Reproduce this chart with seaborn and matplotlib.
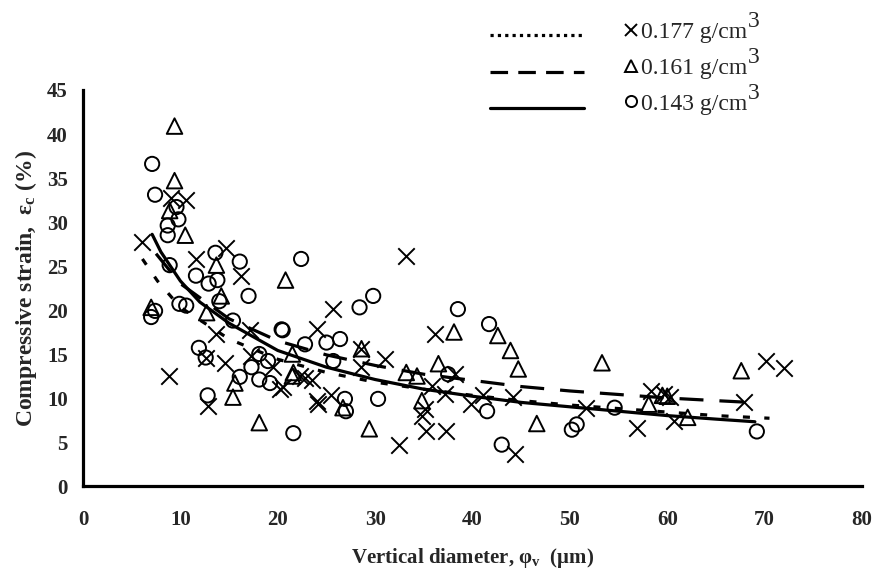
import matplotlib
matplotlib.use("Agg")
import matplotlib.pyplot as plt
from matplotlib.lines import Line2D
import pandas as pd
import seaborn as sns

# ---- measured points: vertical diameter (um) vs compressive strain (%) ----
x_177 = [6.1, 9.0, 10.6, 14.7, 11.6, 16.2, 17.1, 13.7, 12.6, 14.6, 8.8, 17.3, 19.5,
         20.2, 12.8, 33.2, 25.7, 24.0, 36.1, 28.6, 31.0, 38.2, 20.5, 22.3, 22.8, 23.5,
         24.1, 24.0, 25.5, 32.5, 35.1, 34.8, 35.2, 37.3, 37.2, 39.8, 35.8, 41.1, 44.2,
         51.7, 44.4, 56.9, 58.3, 59.7, 60.3, 60.7, 70.1, 72.0, 67.9, 28.5]
y_177 = [27.7, 32.7, 32.5, 27.1, 25.8, 23.9, 17.7, 17.3, 14.6, 14.0, 12.5, 14.8, 13.5,
         11.0, 9.1, 26.1, 20.1, 17.8, 17.3, 15.6, 14.4, 12.7, 11.2, 12.5, 12.3, 12.0,
         9.3, 9.7, 10.3, 4.7, 8.7, 8.0, 6.3, 6.3, 10.4, 9.3, 11.4, 10.3, 10.1,
         8.9, 3.6, 6.6, 10.8, 10.4, 10.1, 7.4, 14.2, 13.4, 9.5, 13.5]

x_161 = [9.4, 9.4, 8.9, 10.5, 13.7, 20.8, 14.2, 7.0, 12.7, 15.6, 21.6, 15.4, 18.1,
         21.5, 28.6, 33.2, 34.3, 36.5, 38.1, 21.5, 26.7, 29.4, 34.8, 42.6, 43.9, 44.7,
         53.3, 46.6, 58.1, 59.5, 60.0, 62.1, 67.6]
y_161 = [40.9, 34.7, 31.3, 28.5, 25.1, 23.4, 21.6, 20.3, 19.7, 11.7, 12.9, 10.1, 7.2,
         15.0, 15.6, 12.9, 12.5, 13.9, 17.5, 12.5, 8.9, 6.5, 9.7, 17.1, 15.4, 13.3,
         14.0, 7.1, 9.3, 10.3, 10.2, 7.8, 13.1]

x_143 = [7.1, 7.4, 9.6, 9.8, 8.7, 8.7, 13.6, 16.1, 8.9, 11.6, 12.9, 13.8, 17.0, 14.0,
         22.4, 9.9, 10.6, 7.4, 7.0, 15.4, 20.4, 11.9, 12.6, 18.1, 17.3, 19.0, 16.1,
         18.1, 19.2, 12.8, 21.6, 29.8, 28.4, 38.5, 20.5, 26.4, 25.0, 22.8, 25.7, 37.5,
         26.9, 27.0, 30.3, 41.7, 41.5, 50.7, 50.2, 54.6, 43.0, 69.2]
y_143 = [36.6, 33.1, 31.7, 30.3, 29.6, 28.5, 26.5, 25.5, 25.1, 23.9, 23.0, 23.4, 21.6, 21.0,
         25.8, 20.7, 20.5, 19.9, 19.2, 18.8, 17.8, 15.7, 14.6, 15.0, 13.5, 14.2, 12.4,
         12.1, 11.7, 10.3, 6.0, 21.6, 20.3, 20.1, 17.7, 16.7, 16.3, 16.1, 14.2, 12.7,
         9.9, 8.5, 9.9, 18.4, 8.5, 7.0, 6.4, 8.9, 4.7, 6.2]

# ---- trend curves for each density ----
cx_177 = [6.1, 7.65, 10, 15, 20, 25, 30, 35, 40, 45, 50, 55, 60, 65, 70.5]
cy_177 = [25.8, 23.3, 20.3, 16.7, 14.4, 12.9, 11.8, 11.0, 10.3, 9.7, 9.2, 8.8, 8.4, 8.0, 7.7]

cx_161 = [7.5, 10, 15, 20, 25, 30, 35, 40, 45, 50, 55, 60, 65, 68.5]
cy_161 = [26.4, 23.0, 19.0, 16.5, 14.9, 13.7, 12.7, 12.0, 11.3, 10.8, 10.4, 10.0, 9.7, 9.5]

cx_143 = [7.1, 8, 10, 12, 15, 20, 25, 30, 35, 40, 45, 50, 55, 60, 65, 69]
cy_143 = [28.6, 26.6, 23.3, 20.9, 18.5, 15.4, 13.5, 12.1, 11.0, 10.2, 9.5, 9.0, 8.5, 8.0, 7.6, 7.3]

labels = ["0.177 g/cm", "0.161 g/cm", "0.143 g/cm"]
x_ticks = [0, 10, 20, 30, 40, 50, 60, 70, 80]
y_ticks = [0, 5, 10, 15, 20, 25, 30, 35, 40, 45]

sns.set_theme(style="white")
plt.rcParams["font.family"] = ["Liberation Serif", "DejaVu Serif"]
plt.rcParams["mathtext.fontset"] = "custom"
plt.rcParams["mathtext.rm"] = "Liberation Serif:bold"
plt.rcParams["mathtext.it"] = "Liberation Serif:bold"
plt.rcParams["mathtext.bf"] = "Liberation Serif:bold"

W, H = 876, 576
fig = plt.figure(figsize=(W / 100, H / 100), dpi=100)
ax = fig.add_axes([83 / W, 1 - 486 / H, (862 - 83) / W, (486 - 90) / H])

pts_177 = pd.DataFrame({"d": x_177, "e": y_177})
pts_161 = pd.DataFrame({"d": x_161, "e": y_161})
pts_143 = pd.DataFrame({"d": x_143, "e": y_143})

sns.scatterplot(data=pts_177, x="d", y="e", marker="x", s=140, color="black",
                linewidth=1.4, ax=ax, zorder=3)
sns.scatterplot(data=pts_161, x="d", y="e", marker="^", s=125, facecolor="none",
                edgecolor="black", linewidth=1.4, ax=ax, zorder=3)
sns.scatterplot(data=pts_143, x="d", y="e", marker="o", s=105, facecolor="none",
                edgecolor="black", linewidth=1.4, ax=ax, zorder=3)

crv_177 = pd.DataFrame({"d": cx_177, "e": cy_177})
crv_161 = pd.DataFrame({"d": cx_161, "e": cy_161})
crv_143 = pd.DataFrame({"d": cx_143, "e": cy_143})

sns.lineplot(data=crv_177, x="d", y="e", color="black", lw=2.3, sort=False, ax=ax, zorder=4)
ax.lines[-1].set_dashes([2.2, 4.5])
sns.lineplot(data=crv_161, x="d", y="e", color="black", lw=2.3, sort=False, ax=ax, zorder=4)
ax.lines[-1].set_dashes([7.5, 5])
sns.lineplot(data=crv_143, x="d", y="e", color="black", lw=2.3, sort=False, ax=ax, zorder=4)

ax.set_xlim(0, 80)
ax.set_ylim(0, 45)
ax.set_xticks(x_ticks)
ax.set_yticks(y_ticks)
ax.set_xticklabels([str(v) for v in x_ticks], fontweight="bold", fontsize=15)
ax.set_yticklabels([str(v) for v in y_ticks], fontweight="bold", fontsize=15)
for s in ["top", "right"]:
    ax.spines[s].set_visible(False)
for s in ["left", "bottom"]:
    ax.spines[s].set_linewidth(2.3)
    ax.spines[s].set_color("black")
ax.tick_params(axis="both", direction="in", length=5, width=1.8, color="black")
ax.tick_params(axis="x", pad=17)
ax.tick_params(axis="y", pad=11)
ax.grid(False)

ax.set_xlabel("Vertical diameter, φ$_\\mathrm{v}$  (μm)", fontsize=15, fontweight="bold", labelpad=12)
ax.set_ylabel("Compressive strain,  ε$_\\mathrm{c}$ (%)", fontsize=17, fontweight="bold", labelpad=6)

# ---- legend block above the axes ----
def fx(px):
    return px / W

def fy(py):
    return 1 - py / H

leg_styles = [([1.0, 1.3], 35), ([5.5, 3.2], 72), (None, 108)]
for dash, yy in leg_styles:
    ln = Line2D([fx(490), fx(584)], [fy(yy), fy(yy)], transform=fig.transFigure,
                color="black", lw=2.3)
    if dash is not None:
        ln.set_dashes(dash)
    fig.add_artist(ln)

leg_markers = [("x", 30), ("^", 66), ("o", 101)]
for mk, yy in leg_markers:
    m = Line2D([fx(631)], [fy(yy)], transform=fig.transFigure, marker=mk,
               markersize=9 if mk != "o" else 8, color="black", mfc="none", lw=0,
               markeredgewidth=1.4)
    fig.add_artist(m)

for lab, yy in zip(labels, [38, 74, 110]):
    t = fig.text(fx(641), fy(yy), lab, fontsize=17, va="baseline", ha="left")
    ax.annotate("3", xy=(1, 0), xycoords=t, xytext=(1, 11), textcoords="offset pixels",
                fontsize=17, va="bottom", ha="left", annotation_clip=False)

fig.savefig("out.png", dpi=100)
